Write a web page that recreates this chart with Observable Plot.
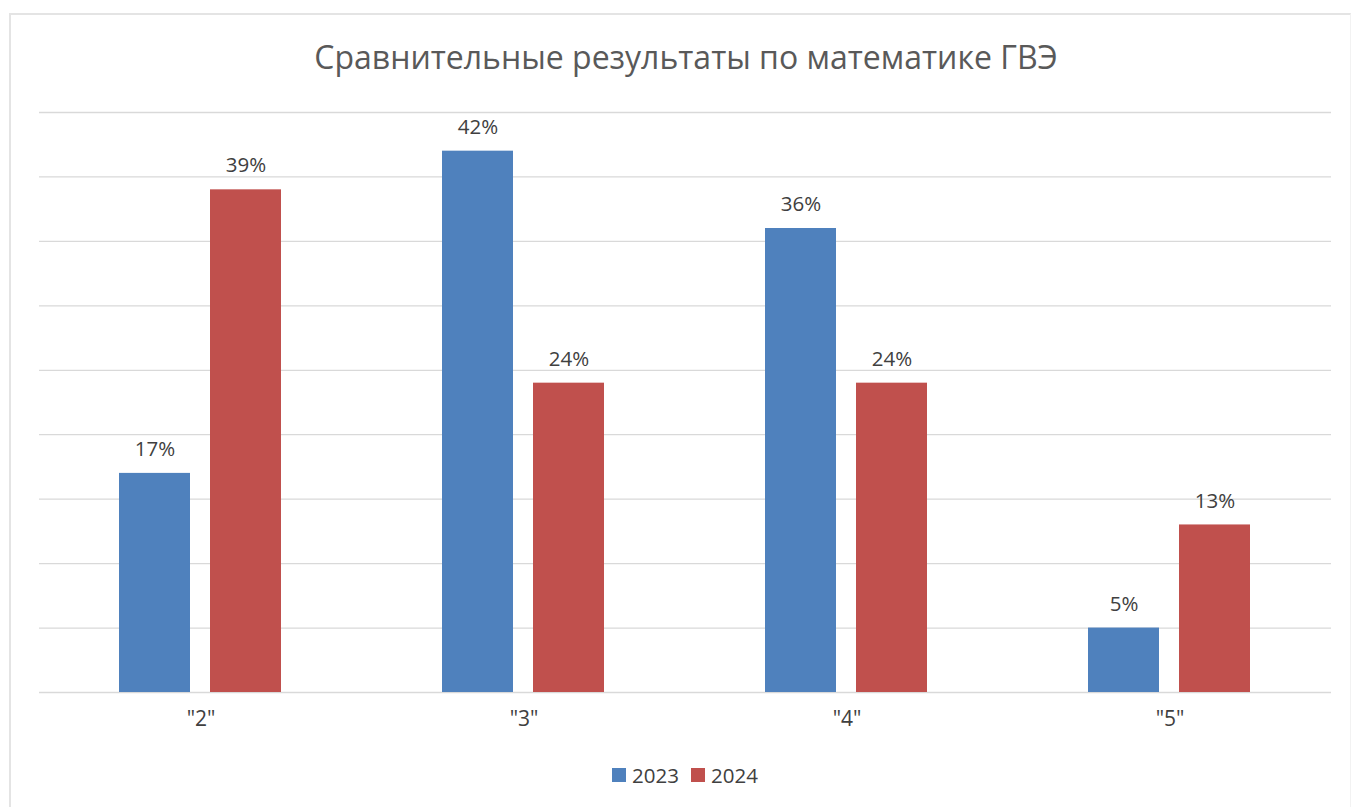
<!DOCTYPE html>
<html>
<head>
<meta charset="utf-8">
<script src="https://cdn.jsdelivr.net/npm/d3@7"></script>
<script src="https://cdn.jsdelivr.net/npm/@observablehq/plot@0.6"></script>
<style>
  html, body { margin: 0; padding: 0; background: #fff; }
  #wrap { position: relative; width: 1354px; height: 807px; overflow: hidden; font-family: "Open Sans", sans-serif; }
  #frame { position: absolute; left: 9px; top: 13px; width: 1342px; height: 800px; border-left: 2px solid #e4e4e4; border-top: 2px solid #e4e4e4; border-right: 1px solid #f2f2f2; box-sizing: border-box; }
  #title { position: absolute; left: 18px; top: 0; width: 1336px; height: 90px; text-align: center; font-size: 32px; line-height: 114px; color: #595959; }
  #chart { position: absolute; left: 0; top: 90px; }
  #legend { position: absolute; left: 0; top: 752px; width: 1354px; height: 46px; display: flex; justify-content: center; align-items: center; font-size: 20.5px; color: #404040; padding-left: 16px; box-sizing: border-box; }
  .item { display: flex; align-items: center; margin: 0 6px; }
  .sw { width: 14px; height: 14px; margin-right: 6px; }
</style>
</head>
<body>
<div id="wrap">
  <div id="frame"></div>
  <div id="title">Сравнительные результаты по математике ГВЭ</div>
  <div id="chart"></div>
  <div id="legend"></div>
</div>
<script>
const categories = ['"2"', '"3"', '"4"', '"5"'];
const years = ["2023", "2024"];
const values2023 = [17, 42, 36, 5];
const values2024 = [39, 24, 24, 13];
const colors = ["#4F81BD", "#C0504D"];
const yTicks = [0, 5, 10, 15, 20, 25, 30, 35, 40, 45];

const data = [];
categories.forEach((c, i) => {
  data.push({cat: c, year: years[0], value: values2023[i]});
  data.push({cat: c, year: years[1], value: values2024[i]});
});

const chart = Plot.plot({
  width: 1354,
  height: 660,
  marginTop: 22,
  marginBottom: 58,
  marginLeft: 38,
  marginRight: 23,
  style: {fontFamily: "Open Sans, sans-serif", background: "transparent"},
  fx: {domain: categories, padding: 0, label: null, axis: null},
  x: {domain: years, paddingInner: 0.217, paddingOuter: 0.865, axis: null},
  y: {domain: [0, 45], axis: null},
  color: {domain: years, range: colors},
  marks: [
    Plot.ruleY(yTicks, {stroke: "#d9d9d9", strokeWidth: 1.3}),
    Plot.barY(data, {fx: "cat", x: "year", y: "value", fill: "year"}),
    Plot.text(data, {fx: "cat", x: "year", y: "value", text: d => d.value + "%", dy: -24, fontSize: 20.5, fill: "#404040"}),
    Plot.text(categories, {fx: d => d, frameAnchor: "bottom", text: d => d, dy: 33, fontSize: 21, fill: "#404040"})
  ]
});
document.getElementById("chart").appendChild(chart);

const legend = document.getElementById("legend");
years.forEach((y, i) => {
  const it = document.createElement("div");
  it.className = "item";
  const sw = document.createElement("div");
  sw.className = "sw";
  sw.style.background = colors[i];
  it.appendChild(sw);
  const t = document.createElement("span");
  t.textContent = y;
  it.appendChild(t);
  legend.appendChild(it);
});
</script>
</body>
</html>
